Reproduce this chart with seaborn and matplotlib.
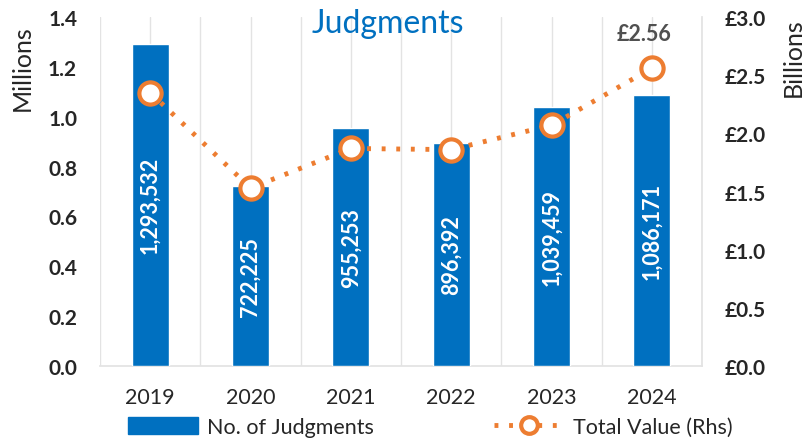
import numpy as np
import seaborn as sns
import matplotlib.pyplot as plt
from matplotlib.ticker import MultipleLocator, FuncFormatter
from matplotlib.lines import Line2D
from matplotlib.patches import Patch

years = ["2019", "2020", "2021", "2022", "2023", "2024"]
judgments = [1293532, 722225, 955253, 896392, 1039459, 1086171]
total_value_bn = [2.35, 1.53, 1.87, 1.86, 2.07, 2.56]

BLUE = "#0070C0"
ORANGE = "#ED7D31"
GRID = "#E3E3E3"

sns.set_theme(style="white")
plt.rcParams["font.family"] = ["Lato", "DejaVu Sans"]

fig = plt.figure(figsize=(8.07, 4.39), dpi=100)
ax = fig.add_axes([0.124, 0.164, 0.746, 0.795])

millions = [v / 1e6 for v in judgments]
sns.barplot(x=years, y=millions, color=BLUE, width=0.37, saturation=1, ax=ax, zorder=3)

ax.set_xlim(-0.5, 5.5)
ax.set_ylim(0, 1.4)
ax.yaxis.set_major_locator(MultipleLocator(0.2))
ax.yaxis.set_major_formatter(FuncFormatter(lambda v, p: f"{v:.1f}"))
ax.xaxis.set_minor_locator(MultipleLocator(0.5))
ax.grid(False)
ax.grid(axis="x", which="both", color=GRID, lw=1, zorder=0)
for s in ["top", "left", "right"]:
    ax.spines[s].set_visible(False)
ax.spines["bottom"].set_color(GRID)
ax.tick_params(axis="x", which="both", length=0, labelsize=15.5, pad=15)
ax.tick_params(axis="y", length=0, labelsize=15, pad=16.5)
for t in ax.get_yticklabels():
    t.set_fontweight("bold")
ax.set_xlabel("")
ax.set_ylabel("")

for i, v in enumerate(millions):
    ax.text(i, v / 2, f"{judgments[i]:,}", rotation=90, ha="center", va="center",
            color="white", fontsize=15.5, fontweight="bold", zorder=5)

ax2 = ax.twinx()
sns.lineplot(x=np.arange(len(years)), y=total_value_bn, ax=ax2, color=ORANGE,
             linestyle=(0, (0.8, 2.2)), lw=3.5, marker="o", markersize=16,
             markerfacecolor="white", markeredgecolor=ORANGE, markeredgewidth=3,
             zorder=6)
ax2.set_ylim(0, 3.0)
ax2.yaxis.set_major_locator(MultipleLocator(0.5))
ax2.yaxis.set_major_formatter(FuncFormatter(lambda v, p: f"£{v:.1f}"))
ax2.tick_params(axis="y", length=0, labelsize=15, pad=16.5)
for t in ax2.get_yticklabels():
    t.set_fontweight("bold")
for s in ["top", "left", "bottom"]:
    ax2.spines[s].set_visible(False)
ax2.spines["right"].set_color(GRID)
ax2.grid(False)
ax2.set_ylabel("")

ax2.text(5 - 0.08, total_value_bn[-1] + 0.3, f"£{total_value_bn[-1]:.2f}", ha="center",
         va="center", color="#505050", fontsize=15.5, fontweight="bold")

fig.text(0.48, 0.945, "Judgments", ha="center", va="center", color=BLUE, fontsize=23)
fig.text(0.027, 0.845, "Millions", rotation=90, ha="center", va="center", fontsize=18)
fig.text(0.983, 0.868, "Billions", rotation=90, ha="center", va="center", fontsize=18)

handles = [
    Patch(facecolor=BLUE, edgecolor=BLUE),
    Line2D([0], [0], color=ORANGE, linestyle=(0, (0.8, 2.2)), lw=3.5, marker="o",
           markersize=12, markerfacecolor="white", markeredgecolor=ORANGE,
           markeredgewidth=3),
]
fig.legend(handles, ["No. of Judgments", "Total Value (Rhs)"], loc="center",
           bbox_to_anchor=(0.533, 0.025), ncol=2, frameon=False, fontsize=15.5,
           handlelength=3.25, handleheight=0.8, columnspacing=5.6, handletextpad=0.4)

fig.savefig("out.png", dpi=100)
